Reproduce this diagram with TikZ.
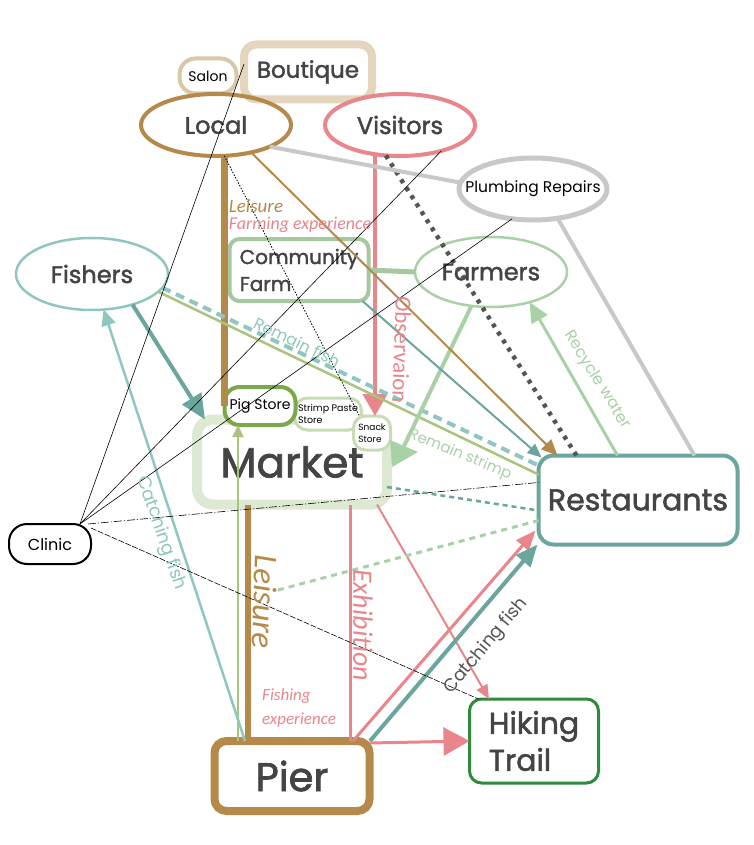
\documentclass[tikz,border=0pt]{standalone}
\usepackage{fontspec}
\setmainfont{Poppins}
\newfontfamily\medfont{Poppins}[FakeBold=1.8]
\newfontfamily\labfont{Carlito}
\usetikzlibrary{arrows.meta,shapes.geometric}
\definecolor{cbrown}{HTML}{B5894A}
\definecolor{cpink}{HTML}{E8868C}
\definecolor{ctan}{HTML}{E4D6BE}
\definecolor{ctantwo}{HTML}{D9C8A6}
\definecolor{cgray}{HTML}{C8C8C8}
\definecolor{ctealL}{HTML}{8FC7C0}
\definecolor{cteal}{HTML}{6AA59E}
\definecolor{cfarm}{HTML}{A6C89F}
\definecolor{cfarmers}{HTML}{A9D1A6}
\definecolor{cmarket}{HTML}{DDE9D3}
\definecolor{cpig}{HTML}{7BA84A}
\definecolor{cstore}{HTML}{C7DCB4}
\definecolor{chike}{HTML}{2F8A3B}
\definecolor{colive}{HTML}{AAC47E}
\definecolor{ctext}{HTML}{444444}
\definecolor{cdots}{HTML}{555555}
\tikzset{
  base/.style={inner sep=0pt, outer sep=0pt, text=ctext, align=center},
  ell/.style={base, ellipse},
  rbox/.style={base, rectangle, fill=white},
  thinline/.style={black, line width=0.6pt},
  lab/.style={inner sep=0pt, align=left},
}
\begin{document}
\begin{tikzpicture}[x=1pt,y=-1pt]
\useasboundingbox[fill=white] (0,0) rectangle (754,845);

% ---- nodes ----
\node[rbox, draw=ctan, line width=8pt, rounded corners=12pt, minimum width=128pt, minimum height=55pt,
  font=\medfont\fontsize{23}{27}\selectfont] (boutique) at (308,72) {Boutique};
\node[rbox, draw=ctantwo, line width=4pt, rounded corners=16pt, minimum width=57pt, minimum height=35pt,
  font=\fontsize{14}{16}\selectfont, text=black] (salon) at (208,76) {Salon};
\node[ell, draw=cbrown, line width=4pt, minimum width=150pt, minimum height=62pt,
  label={[text=ctext, font=\medfont\fontsize{24}{28}\selectfont]center:Local}] (local) at (216,125) {};
\node[ell, draw=cpink, line width=4pt, fill=white, minimum width=150pt, minimum height=62pt,
  label={[text=ctext, font=\medfont\fontsize{24}{28}\selectfont]center:Visitors}] (visitors) at (400,125) {};
\node[ell, draw=cgray, line width=5pt, fill=white, minimum width=148pt, minimum height=62pt,
  label={[text=black, font=\fontsize{15.5}{18}\selectfont]center:Plumbing Repairs}] (plumbing) at (533,189) {};
\node[ell, draw=ctealL, line width=2.5pt, fill=white, minimum width=152pt, minimum height=72pt,
  label={[text=ctext, font=\medfont\fontsize{24}{28}\selectfont]center:Fishers}] (fishers) at (92,274) {};
\node[ell, draw=cfarmers, line width=2.5pt, fill=white, minimum width=152pt, minimum height=70pt,
  label={[text=ctext, font=\medfont\fontsize{24}{28}\selectfont]center:Farmers}] (farmers) at (491,272) {};
\node[rbox, draw=cfarm, line width=4pt, rounded corners=10pt, minimum width=139pt, minimum height=62pt,
  align=left, font=\medfont\fontsize{20}{27}\selectfont] (farm) at (299,270) {Community\\Farm};
\node[rbox, draw=cmarket, line width=10pt, rounded corners=16pt, minimum width=190pt, minimum height=85pt,
  font=\medfont\fontsize{42}{46}\selectfont] (market) at (292,462) {Market};
\node[rbox, draw=cstore, line width=3pt, rounded corners=13pt, minimum width=67pt, minimum height=32pt,
  align=left, text=black, font=\fontsize{9.5}{12}\selectfont] (strimp) at (328,414) {Strimp Paste\\Store};
\node[rbox, draw=cpig, line width=4pt, rounded corners=15pt, minimum width=71pt, minimum height=38pt,
  text=black, font=\fontsize{14}{16}\selectfont] (pig) at (260,406) {Pig Store};
\node[rbox, draw=cstore, line width=3pt, rounded corners=12pt, minimum width=37pt, minimum height=34pt,
  align=left, text=black, font=\fontsize{9}{12}\selectfont] (snack) at (372,433) {Snack\\Store};
\node[rbox, draw=cteal, line width=4pt, rounded corners=15pt, minimum width=199pt, minimum height=89pt,
  font=\medfont\fontsize{30}{34}\selectfont] (restaurants) at (638,500) {Restaurants};
\node[rbox, draw=black, line width=2pt, rounded corners=18pt, minimum width=82pt, minimum height=40pt,
  text=black, font=\fontsize{16}{19}\selectfont] (clinic) at (50,544) {Clinic};
\node[rbox, draw=cbrown, line width=8pt, rounded corners=12pt, minimum width=155pt, minimum height=70pt,
  font=\medfont\fontsize{40}{44}\selectfont] (pier) at (292,776) {Pier};
\node[rbox, draw=chike, line width=3pt, rounded corners=12pt, minimum width=129pt, minimum height=84pt,
  align=left, font=\medfont\fontsize{30}{37}\selectfont] (hiking) at (534,741) {Hiking\\Trail};

% ---- connectors ----
\draw[cbrown, line width=7pt] (local.south -| pig.west) -- (pig.west);
\draw[cbrown, line width=6pt] ([xshift=-44pt]pier.north) -- ([xshift=-44pt]pier.north |- market.south);
\draw[colive, line width=2pt, -{Triangle[length=12pt,width=11pt]}] ([xshift=-54pt]pier.north) -- ([xshift=-54pt]pier.north |- pig.south);
\draw[cpink, line width=4pt, -{Triangle[length=22pt,width=24pt]}] ([xshift=-25pt]visitors.south) -- ([xshift=-25pt]visitors.south |- snack.north);
\draw[cpink, line width=3pt] ([xshift=58pt]pier.north) -- ([xshift=58pt]pier.north |- market.south);
\draw[cpink, line width=2pt, -{Triangle[length=14pt,width=12pt]}] ([xshift=85pt]market.south) -- ([xshift=-45pt]hiking.north);
\draw[cpink, line width=3pt, -{Triangle[length=20pt,width=16pt]}] ([xshift=61pt]pier.north) -- ([xshift=-3pt,yshift=14pt]restaurants.south west);
\draw[cteal, line width=4pt, -{Triangle[length=22pt,width=18pt]}] ([xshift=78pt]pier.north) -- ([xshift=-1pt]restaurants.south west);
\draw[cpink, line width=3pt, -{Triangle[length=26pt,width=28pt]}] ([yshift=-2pt]pier.north east) -- (hiking.west);
\draw[ctealL, line width=2.5pt, -{Triangle[length=16pt,width=14pt]}] ([xshift=-47pt]pier.north) -- (fishers.-72);
\draw[cteal, line width=4pt, -{Triangle[length=25pt,width=22pt]}] (fishers.-37) -- ([xshift=8pt]market.north west);
\draw[ctealL, line width=4pt, dash pattern=on 9pt off 6pt] (fishers.-11) -- ([yshift=-10pt]restaurants.north west);
\draw[colive, line width=2.5pt] (fishers.-15) -- ([yshift=-19pt]restaurants.north west);
\coordinate (fmtip) at (404,446);
\draw[cfarmers, line width=4pt] (farmers.-120) -- (fmtip);
\fill[cfarmers] (390,440) -- (418,452) -- (392,467) -- cycle;
\draw[cfarm, line width=5pt] (farm.east) -- (farmers.west);
\draw[cbrown, line width=2pt, -{Triangle[length=16pt,width=14pt]}] (local.-38) -- ([xshift=19pt]restaurants.north west);
\draw[cteal, line width=2pt, -{Triangle[length=14pt,width=12pt]}] ([xshift=-6pt]farm.south east) -- ([xshift=3pt,yshift=-2pt]restaurants.north west);
\draw[cdots, line width=4.5pt, dash pattern=on 4pt off 5.5pt] (visitors.-115) -- ([xshift=38pt]restaurants.north west);
\draw[cgray, line width=4pt] (local.-22) -- (plumbing.175);
\draw[cgray, line width=4pt] (plumbing.-50) -- ([xshift=-43pt]restaurants.north east);
\draw[cfarmers, line width=3pt, -{Triangle[length=20pt,width=18pt]}] ([xshift=-120pt]restaurants.north east) -- (farmers.-38);
\draw[black, line width=0.8pt, dash pattern=on 1.5pt off 1.5pt] (local.-75) -- ([xshift=6pt]snack.north west);
\draw[thinline] ([xshift=-11pt]clinic.north east) -- ([yshift=8pt]boutique.west);
\draw[thinline] ([xshift=-11pt]clinic.north east) -- (visitors.-32);
\draw[thinline] ([xshift=-11pt]clinic.north east) -- (plumbing.-125);
\draw[thinline, dash pattern=on 8pt off 2pt on 1pt off 2pt] ([xshift=-3pt]clinic.north east) -- ([yshift=-27pt]restaurants.north west);
\draw[thinline, dash pattern=on 6pt off 1.5pt] ([yshift=-4pt]clinic.north east) -- ([xshift=9pt]hiking.north west);
\coordinate (gdash) at (278,590);
\draw[cfarmers, line width=3pt, dash pattern=on 6pt off 5pt] (gdash) -- ([yshift=-65pt]restaurants.north west);
\draw[cteal, line width=2.5pt, dash pattern=on 5pt off 4pt] ([yshift=-25pt]market.east) -- ([yshift=-55pt]restaurants.north west);

% ---- labels ----
\node[lab, text=cbrown, font=\labfont\itshape\fontsize{19}{22}\selectfont] (tleis) at (256,206) {Leisure};
\node[lab, text=cpink, font=\labfont\itshape\fontsize{18}{22}\selectfont] (tfarmexp) at (300,225) {Farming experience};
\node[lab, text=ctealL, rotate=-26, font=\fontsize{16}{18}\selectfont] (tremfish) at (297,342) {Remain fish};
\node[lab, text=cpink, rotate=-92, font=\labfont\fontsize{23}{26}\selectfont] (tobs) at (402,350) {Observaion};
\node[lab, text=cfarmers, rotate=-58, font=\fontsize{16}{18}\selectfont] (trecycle) at (597,380) {Recycle water};
\node[lab, text=cfarmers, rotate=-22, font=\fontsize{15}{17}\selectfont] (tremstrimp) at (460,455) {Remain strimp};
\node[lab, text=ctealL, rotate=-71, font=\fontsize{18}{20}\selectfont] (tcatch1) at (161,533) {Catching fish};
\node[lab, text=cbrown, rotate=-92, font=\labfont\itshape\fontsize{33}{36}\selectfont] (tleis2) at (265,602) {Leisure};
\node[lab, text=cpink, rotate=-90, font=\labfont\itshape\fontsize{28}{32}\selectfont] (texhib) at (363,625) {Exhibition};
\node[lab, text=cdots, rotate=50, font=\fontsize{18}{20}\selectfont] (tcatch2) at (486,646) {Catching fish};
\node[lab, anchor=west, text=cpink, font=\labfont\itshape\fontsize{17}{24}\selectfont] (tfishexp) at (262,708) {Fishing\\experience};
\end{tikzpicture}
\end{document}
